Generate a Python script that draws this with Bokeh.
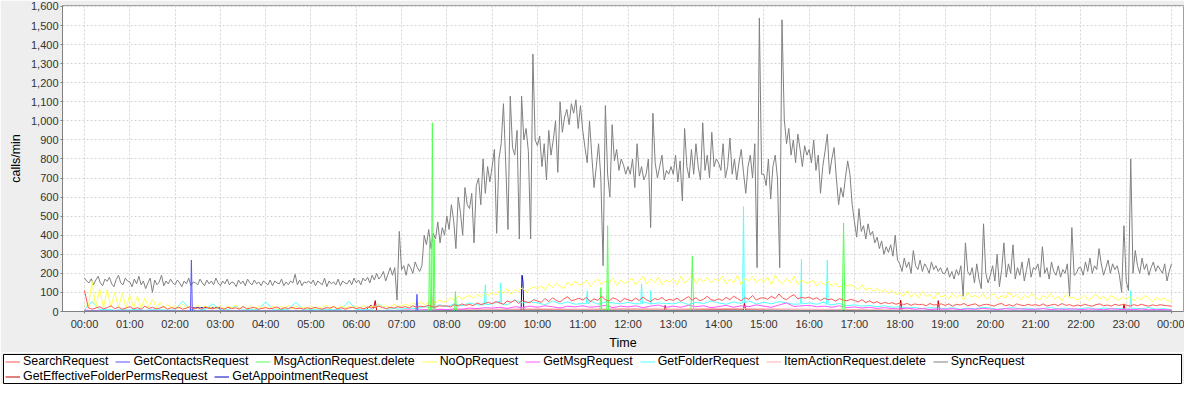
import numpy as np
from bokeh.plotting import figure
from bokeh.models import Range1d, FixedTicker, NumeralTickFormatter, Legend, LegendItem
from bokeh.layouts import column
from bokeh.embed import file_html
from bokeh.resources import INLINE

# ---------------- data ----------------
series_names = ["SearchRequest", "GetContactsRequest", "MsgActionRequest.delete", "NoOpRequest",
                "GetMsgRequest", "GetFolderRequest", "ItemActionRequest.delete", "SyncRequest",
                "GetEffectiveFolderPermsRequest", "GetAppointmentRequest"]
series_colors = ["#FF5555", "#5555FF", "#55FF55", "#FFFF55", "#FF55FF", "#55FFFF", "#FFAFAF",
                 "#808080", "#C00000", "#0000C0"]
hour_labels = ["00:00", "01:00", "02:00", "03:00", "04:00", "05:00", "06:00", "07:00", "08:00",
               "09:00", "10:00", "11:00", "12:00", "13:00", "14:00", "15:00", "16:00", "17:00",
               "18:00", "19:00", "20:00", "21:00", "22:00", "23:00", "00:00"]
hour_ticks = list(range(25))
y_ticks = list(range(0, 1601, 100))

# SyncRequest, one value every 3 minutes (20 per hour)
sync_request = [
    175, 160, 150, 172, 140, 165, 185, 150, 135, 170, 158, 180, 145, 130, 168, 190, 150, 140, 175, 160,
    155, 130, 170, 145, 185, 140, 160, 120, 150, 175, 100, 165, 140, 155, 190, 135, 160, 145, 170, 150,
    140, 165, 150, 130, 160, 145, 175, 135, 155, 150, 140, 170, 150, 135, 165, 145, 160, 140, 175, 150,
    135, 160, 145, 170, 140, 155, 150, 130, 165, 145, 160, 135, 170, 150, 140, 165, 145, 155, 135, 160,
    150, 140, 165, 135, 160, 150, 145, 170, 135, 155, 140, 160, 150, 195, 140, 165, 135, 155, 150, 160,
    145, 165, 135, 160, 150, 140, 175, 130, 160, 145, 155, 140, 170, 135, 160, 150, 145, 165, 140, 175,
    150, 165, 140, 175, 160, 180, 150, 190, 165, 200, 170, 185, 210, 160, 195, 230, 190, 230, 60, 420,
    220, 240, 190, 250, 230, 200, 260, 230, 210, 240, 400, 350, 430, 330, 410, 380, 470, 360, 440, 400,
    500, 430, 560, 480, 330, 600, 520, 400, 650, 560, 540, 620, 360, 660, 700, 560, 800, 620, 760, 680,
    760, 850, 410, 800, 880, 1090, 780, 430, 1130, 860, 820, 950, 380, 1130, 900, 960, 840, 380, 1350, 900,
    870, 920, 760, 880, 690, 950, 820, 900, 1000, 730, 1100, 940, 1020, 1060, 980, 1090, 1040, 1110, 960, 1080,
    950, 860, 780, 1000, 820, 650, 760, 880, 700, 240, 1080, 720, 600, 980, 790, 850, 740, 800, 770, 720,
    760, 720, 800, 650, 880, 710, 760, 690, 720, 800, 440, 1040, 780, 700, 760, 820, 690, 740, 720, 760,
    720, 820, 680, 790, 580, 960, 760, 700, 850, 720, 880, 760, 690, 990, 740, 820, 700, 940, 760, 800,
    780, 740, 880, 700, 760, 910, 720, 800, 690, 780, 850, 730, 620, 760, 820, 700, 880, 230, 1540, 720,
    720, 660, 800, 590, 760, 820, 700, 230, 1530, 1010, 880, 960, 820, 900, 780, 930, 850, 760, 870, 820,
    850, 780, 900, 740, 820, 620, 760, 840, 930, 720, 800, 860, 700, 560, 650, 600, 700, 790, 720, 560,
    470, 390, 540, 420, 450, 380, 460, 400, 420, 360, 390, 330, 370, 300, 340, 310, 350, 290, 400, 270,
    250, 210, 280, 230, 260, 200, 320, 240, 220, 270, 210, 250, 230, 200, 260, 220, 240, 210, 230, 200,
    200, 230, 180, 210, 170, 220, 190, 240, 80, 360, 210, 190, 230, 150, 250, 170, 120, 460, 200, 150,
    190, 240, 160, 300, 130, 220, 360, 180, 250, 200, 350, 170, 230, 190, 260, 160, 220, 280, 180, 230,
    220, 250, 180, 340, 200, 230, 170, 260, 210, 190, 240, 180, 220, 200, 250, 80, 440, 190, 200, 230,
    230, 190, 260, 210, 280, 200, 240, 220, 330, 250, 190, 230, 270, 200, 250, 220, 240, 190, 100, 450,
    160, 110, 800, 200, 320, 240, 200, 280, 220, 250, 190, 230, 260, 210, 240, 220, 200, 250, 160, 210,
    250,
]

# NoOpRequest and SearchRequest, one value every 5 minutes (12 per hour)
noop_request = [
    40, 20, 160, 18, 120, 20, 115, 22, 100, 20, 97, 18,
    85, 20, 80, 18, 70, 22, 65, 20, 48, 18, 35, 20,
    30, 15, 40, 18, 28, 15, 35, 12, 30, 18, 25, 15,
    32, 12, 28, 18, 35, 14, 26, 16, 30, 12, 28, 15,
    25, 14, 30, 12, 26, 18, 32, 14, 28, 16, 24, 12,
    30, 15, 26, 18, 34, 14, 28, 16, 30, 18, 26, 20,
    28, 18, 32, 20, 26, 22, 35, 24, 30, 20, 38, 25,
    30, 40, 28, 45, 35, 50, 38, 42, 55, 45, 60, 50,
    55, 70, 60, 80, 65, 75, 85, 70, 90, 78, 95, 85,
    100, 85, 110, 95, 120, 90, 115, 105, 125, 100, 118, 130,
    120, 135, 110, 145, 125, 150, 130, 120, 155, 135, 160, 140,
    145, 165, 130, 155, 170, 140, 160, 150, 175, 135, 165, 150,
    155, 175, 140, 160, 185, 145, 170, 150, 180, 140, 165, 155,
    170, 140, 185, 150, 165, 195, 145, 175, 155, 180, 150, 170,
    160, 185, 145, 170, 150, 190, 140, 175, 160, 185, 150, 170,
    155, 180, 140, 190, 160, 145, 175, 150, 185, 140, 165, 150,
    150, 165, 135, 155, 140, 160, 130, 150, 125, 145, 135, 140,
    130, 115, 140, 110, 125, 105, 120, 100, 115, 95, 110, 90,
    100, 80, 110, 75, 95, 70, 105, 80, 90, 65, 100, 75,
    85, 65, 95, 70, 90, 60, 100, 75, 85, 70, 95, 65,
    80, 95, 65, 85, 70, 100, 75, 90, 60, 85, 70, 95,
    75, 60, 85, 70, 95, 65, 80, 55, 90, 70, 75, 60,
    70, 85, 60, 75, 90, 65, 80, 55, 85, 70, 60, 75,
    65, 80, 55, 75, 60, 85, 70, 50, 75, 60, 70, 55,
    60,
]
search_request = [
    110, 20, 12, 18, 25, 14, 20, 30, 15, 22, 12, 18,
    25, 14, 20, 12, 28, 16, 22, 14, 18, 26, 12, 20,
    15, 22, 12, 18, 25, 14, 20, 12, 24, 16, 14, 20,
    18, 12, 22, 15, 20, 12, 26, 14, 18, 22, 12, 16,
    20, 14, 18, 24, 12, 20, 16, 22, 14, 18, 12, 20,
    14, 22, 16, 12, 20, 18, 25, 14, 20, 12, 18, 22,
    16, 20, 14, 24, 18, 22, 28, 20, 16, 22, 18, 25,
    20, 26, 18, 30, 22, 28, 24, 32, 26, 22, 30, 28,
    30, 24, 36, 28, 40, 32, 38, 30, 45, 36, 42, 48,
    40, 52, 45, 38, 55, 48, 60, 42, 58, 50, 46, 62,
    55, 48, 68, 52, 72, 58, 50, 66, 78, 56, 62, 70,
    60, 74, 52, 66, 58, 80, 62, 55, 72, 64, 50, 68,
    62, 55, 70, 58, 76, 60, 52, 68, 62, 74, 56, 64,
    58, 70, 54, 66, 78, 60, 72, 56, 64, 80, 62, 58,
    66, 58, 74, 62, 80, 68, 56, 72, 64, 84, 60, 70,
    72, 64, 80, 68, 92, 70, 62, 78, 88, 66, 74, 70,
    76, 64, 72, 58, 70, 62, 66, 54, 68, 60, 56, 64,
    58, 50, 62, 46, 56, 44, 52, 40, 48, 42, 46, 38,
    44, 36, 42, 32, 40, 35, 38, 30, 42, 34, 36, 40,
    32, 40, 28, 38, 34, 42, 30, 36, 40, 28, 35, 38,
    34, 28, 38, 42, 30, 36, 28, 40, 34, 30, 38, 32,
    36, 30, 40, 28, 34, 38, 30, 42, 32, 36, 28, 34,
    30, 38, 32, 28, 36, 40, 30, 34, 28, 38, 32, 36,
    34, 28, 36, 30, 38, 32, 28, 35, 30, 36, 32, 30,
    28,
]

# 10-minute series (6 per hour)
getfolder_request = [
    10, 52, 8, 12, 6, 10,  8, 12, 6, 10, 9, 7,  8, 55, 10, 6, 12, 40,  8, 10, 30, 7, 12, 9,
    50, 8, 10, 12, 48, 9,  10, 8, 12, 9, 11, 52,  10, 12, 8, 40, 12, 15,  12, 18, 15, 25, 20, 35,
    25, 40, 30, 45, 35, 60,  40, 55, 35, 60, 45, 50,  45, 35, 55, 40, 50, 38,  42, 55, 38, 50, 45, 40,
    48, 40, 52, 38, 45, 42,  40, 50, 36, 48, 42, 55,  45, 38, 50, 42, 55, 40,  48, 40, 52, 45, 38, 50,
    45, 38, 50, 35, 42, 30,  35, 28, 32, 25, 30, 22,  25, 18, 22, 15, 20, 18,  15, 20, 12, 18, 14, 22,
    18, 12, 16, 20, 14, 18,  12, 16, 20, 14, 18, 12,  15, 20, 12, 18, 14, 16,  12, 18, 14, 20, 12, 15,
    10,
]
getfolder_spike_t = [8.83, 8.85, 8.87, 9.17, 9.19, 9.21, 11.08, 11.1, 11.12, 12.28, 12.3, 12.32,
                     12.48, 12.5, 12.52, 14.53, 14.55, 14.57, 15.81, 15.83, 15.85, 16.38, 16.4, 16.42,
                     23.08, 23.1, 23.12]
getfolder_spike_v = [35, 140, 35, 40, 150, 40, 40, 108, 40, 40, 145, 40,
                     40, 110, 40, 45, 550, 45, 40, 275, 40, 35, 270, 35,
                     15, 110, 15]
getmsg_request = [
    8, 4, 6, 3, 5, 4,  3, 5, 4, 6, 3, 5,  4, 3, 6, 4, 5, 3,  5, 4, 3, 6, 4, 5,
    3, 6, 4, 5, 3, 4,  5, 3, 4, 6, 5, 3,  4, 6, 5, 3, 6, 5,  6, 8, 5, 10, 8, 12,
    10, 14, 12, 18, 15, 20,  18, 22, 16, 25, 20, 28,  22, 30, 25, 18, 28, 24,  30, 22, 26, 32, 20, 28,
    24, 30, 20, 28, 34, 22,  28, 22, 32, 25, 30, 20,  26, 32, 22, 30, 25, 35,  28, 22, 34, 45, 26, 30,
    32, 25, 28, 22, 30, 20,  24, 18, 22, 16, 20, 15,  14, 18, 12, 16, 10, 14,  12, 15, 10, 14, 12, 16,
    13, 10, 15, 12, 14, 11,  12, 15, 10, 13, 11, 14,  10, 13, 12, 9, 14, 11,  12, 10, 13, 9, 11, 10,
    8,
]

# sparse series as (time in hours, value) knots
msgaction_t = [0, 7.6, 7.62, 7.64, 7.66, 7.68, 7.7, 7.72, 7.74, 8.17, 8.19, 8.21, 11.38, 11.4, 11.42,
               11.53, 11.55, 11.57, 13.39, 13.42, 13.45, 16.73, 16.76, 16.79, 24]
msgaction_v = [2, 3, 390, 3, 3, 990, 3, 380, 3, 3, 105, 3, 3, 125, 3,
               3, 450, 3, 3, 290, 3, 3, 465, 3, 2]
contacts_t = [0, 2.34, 2.36, 2.38, 7.32, 7.34, 7.36, 24]
contacts_v = [2, 2, 270, 2, 2, 90, 2, 2]
appointment_t = [0, 2.38, 2.4, 2.98, 3.0, 9.64, 9.66, 9.68, 9.7, 24]
appointment_v = [1, 1, 20, 20, 2, 3, 190, 160, 3, 1]
itemaction_t = [0, 2, 4, 6, 7, 7.66, 7.7, 7.74, 8, 9, 10, 11, 12, 13, 14, 15, 16, 17, 18, 20, 22, 24]
itemaction_v = [5, 4, 3, 4, 6, 6, 85, 8, 10, 12, 14, 12, 15, 13, 16, 14, 12, 10, 8, 6, 5, 4]
perms_t = [0, 3, 6.2, 6.28, 6.33, 6.38, 6.42, 6.45, 8, 10, 12, 12.8, 12.82, 12.84, 14, 14.55, 14.57,
           14.6, 16, 18.0, 18.02, 18.05, 18.83, 18.85, 18.88, 20, 22.93, 22.95, 22.98, 24]
perms_v = [4, 3, 3, 25, 32, 15, 57, 5, 6, 8, 7, 7, 32, 7, 8, 8, 45,
           8, 6, 5, 60, 5, 5, 57, 5, 4, 4, 40, 4, 3]


def grid(vals, step_hours):
    return np.arange(len(vals)) * step_hours, np.asarray(vals, dtype=float)


def merge(t1, v1, t2, v2):
    t = np.concatenate([np.asarray(t1, float), np.asarray(t2, float)])
    v = np.concatenate([np.asarray(v1, float), np.asarray(v2, float)])
    o = np.argsort(t, kind="stable")
    return t[o], v[o]


series_data = {
    "SearchRequest": grid(search_request, 1 / 12),
    "GetContactsRequest": (np.array(contacts_t, float), np.array(contacts_v, float)),
    "MsgActionRequest.delete": (np.array(msgaction_t, float), np.array(msgaction_v, float)),
    "NoOpRequest": grid(noop_request, 1 / 12),
    "GetMsgRequest": grid(getmsg_request, 1 / 6),
    "GetFolderRequest": merge(*grid(getfolder_request, 1 / 6), getfolder_spike_t, getfolder_spike_v),
    "ItemActionRequest.delete": (np.array(itemaction_t, float), np.array(itemaction_v, float)),
    "SyncRequest": grid(sync_request, 1 / 20),
    "GetEffectiveFolderPermsRequest": (np.array(perms_t, float), np.array(perms_v, float)),
    "GetAppointmentRequest": (np.array(appointment_t, float), np.array(appointment_v, float)),
}

# ---------------- chart ----------------
FONT = "Liberation Sans"
p = figure(width=1184, height=352, x_range=Range1d(-0.486, 24.265), y_range=Range1d(0, 1605),
           toolbar_location=None, output_backend="svg",
           min_border_left=62, min_border_right=1, min_border_top=5, min_border_bottom=38)
p.frame_align = False
p.border_fill_color = "#EEEEEE"
p.background_fill_color = "#FFFFFF"
p.outline_line_color = "#A0A0A0"
p.outline_line_width = 1

for name, color in reversed(list(zip(series_names, series_colors))):
    t, v = series_data[name]
    p.line(t, v, line_color=color, line_width=1)

xa = p.xaxis[0]
xa.ticker = FixedTicker(ticks=hour_ticks)
xa.major_label_overrides = {tk: lab for tk, lab in zip(hour_ticks, hour_labels)}
xa.axis_label = "Time"
ya = p.yaxis[0]
ya.ticker = FixedTicker(ticks=y_ticks)
ya.formatter = NumeralTickFormatter(format="0,0")
ya.axis_label = "calls/min"
for ax in (xa, ya):
    ax.axis_line_color = "#808080"
    ax.major_tick_line_color = "#808080"
    ax.major_tick_out = 2
    ax.major_tick_in = 0
    ax.minor_tick_line_color = None
    ax.major_label_text_font = FONT
    ax.major_label_text_font_size = "11px"
    ax.major_label_text_color = "#333333"
    ax.axis_label_text_font = FONT
    ax.axis_label_text_font_size = "12.5px"
    ax.axis_label_text_font_style = "normal"
    ax.axis_label_text_color = "#000000"
xa.major_label_standoff = 4
xa.axis_label_standoff = 3
ya.major_label_standoff = 2
ya.axis_label_standoff = 5

for g in (p.xgrid[0], p.ygrid[0]):
    g.grid_line_color = "#D4D4D4"
    g.grid_line_dash = "2 2"
    g.grid_line_width = 1

# ---------------- legend box (separate strip below the chart) ----------------
# its ranges lie outside the data, so the series lines there stay hidden and only the
# legend entries show
lf = figure(width=1184, height=32, x_range=Range1d(100, 101), y_range=Range1d(5000, 5001),
            toolbar_location=None, output_backend="svg",
            x_axis_location=None, y_axis_location=None,
            min_border_left=3, min_border_right=3, min_border_top=2, min_border_bottom=1)
lf.frame_align = False
lf.grid.visible = False
lf.border_fill_color = "#EEEEEE"
lf.background_fill_color = "#FFFFFF"
lf.outline_line_color = "#000000"
lf.outline_line_width = 1

items = []
for name, color in zip(series_names, series_colors):
    t, v = series_data[name]
    r = lf.line(t, v, line_color=color, line_width=1)
    items.append(LegendItem(label=name, renderers=[r]))


def make_legend(its, loc):
    return Legend(items=its, orientation="horizontal", location=loc, padding=0, margin=0,
                  spacing=7, glyph_width=15, glyph_height=13, label_height=13, label_standoff=3,
                  label_text_font=FONT, label_text_font_size="12.4px",
                  label_text_color="#000000", border_line_alpha=0, background_fill_alpha=0)


lf.add_layout(make_legend(items[8:], (2, 0)), "center")
lf.add_layout(make_legend(items[:8], (2, 15)), "center")

layout = column(p, lf, spacing=0)
open("out.html", "w").write(file_html(layout, INLINE))
